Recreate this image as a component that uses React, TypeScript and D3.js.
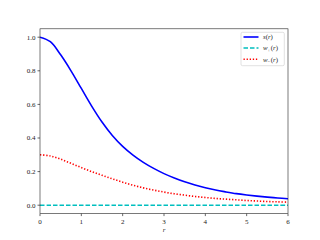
import * as d3 from 'd3'

const rValues = [0, 0.25, 0.5, 0.75, 1, 1.25, 1.5, 1.75, 2, 2.25, 2.5, 2.75, 3, 3.25, 3.5, 3.75, 4, 4.25, 4.5, 4.75, 5, 5.25, 5.5, 5.75, 6]
const sValues = [1.0, 0.973, 0.895, 0.8, 0.695, 0.59, 0.495, 0.415, 0.35, 0.298, 0.255, 0.219, 0.188, 0.162, 0.139, 0.12, 0.104, 0.09, 0.079, 0.069, 0.061, 0.054, 0.048, 0.043, 0.038]
const wPlusValues = rValues.map(() => 0)
const wMinusValues = [0.3, 0.293, 0.274, 0.249, 0.224, 0.2, 0.178, 0.157, 0.137, 0.119, 0.103, 0.09, 0.078, 0.068, 0.06, 0.052, 0.046, 0.04, 0.036, 0.032, 0.028, 0.025, 0.022, 0.02, 0.018]

const xTicks = [0, 1, 2, 3, 4, 5, 6]
const yTicks = [0, 0.2, 0.4, 0.6, 0.8, 1.0]

const W = 320
const H = 240
const margin = { left: 40, right: 32, top: 28.8, bottom: 26.4 }
const font = '"Liberation Serif", "DejaVu Serif", serif'

const series = [
  { name: 's', sub: '', values: sValues, color: '#0000ff', dash: '', width: 1.6 },
  { name: 'w', sub: '+', values: wPlusValues, color: '#00bfbf', dash: '4.5,2', width: 1.5 },
  { name: 'w', sub: '\u2212', values: wMinusValues, color: '#ff0000', dash: '1.3,1.8', width: 1.6 },
]

export default function App() {
  const x = d3.scaleLinear().domain([0, 6]).range([margin.left, W - margin.right])
  const y = d3.scaleLinear().domain([-0.05, 1.05]).range([H - margin.bottom, margin.top])

  const line = d3
    .line<number>()
    .x((_, i) => x(rValues[i]))
    .y((d) => y(d))
    .curve(d3.curveCatmullRom.alpha(0.5))

  const x0 = margin.left
  const x1 = W - margin.right
  const y0 = H - margin.bottom
  const y1 = margin.top

  return (
    <svg
      width={W}
      height={H}
      style={{ position: 'absolute', left: 0, top: 0, background: '#fff' }}
      fontFamily={font}
    >
      <defs>
        <clipPath id="plot">
          <rect x={x0} y={y1} width={x1 - x0} height={y0 - y1} />
        </clipPath>
      </defs>

      <g clipPath="url(#plot)">
        {series.map((s, i) => (
          <path
            key={i}
            d={line(s.values) || ''}
            fill="none"
            stroke={s.color}
            strokeWidth={s.width}
            strokeDasharray={s.dash || undefined}
          />
        ))}
      </g>

      {/* ticks */}
      {xTicks.map((t) => (
        <g key={'x' + t}>
          <line x1={x(t)} x2={x(t)} y1={y0} y2={y0 + 2.5} stroke="#000" strokeWidth={0.6} />
          <text x={x(t)} y={y0 + 10} fontSize={7} textAnchor="middle" fill="#222">
            {t}
          </text>
        </g>
      ))}
      {yTicks.map((t) => (
        <g key={'y' + t}>
          <line x1={x0 - 2.5} x2={x0} y1={y(t)} y2={y(t)} stroke="#000" strokeWidth={0.6} />
          <text x={x0 - 4.5} y={y(t) + 2.4} fontSize={7} textAnchor="end" fill="#222">
            {t.toFixed(1)}
          </text>
        </g>
      ))}

      <rect x={x0} y={y1} width={x1 - x0} height={y0 - y1} fill="none" stroke="#222" strokeWidth={0.6} />

      <text x={(x0 + x1) / 2} y={232} fontSize={7} textAnchor="middle" fontStyle="italic" fill="#222">
        r
      </text>

      {/* legend */}
      <rect x={241} y={32.3} width={43.3} height={33.4} rx={1.5} fill="#fff" fillOpacity={0.8} stroke="#ccc" strokeWidth={0.6} />
      {series.map((s, i) => {
        const ly = 37 + i * 11.1
        return (
          <g key={'l' + i}>
            <line
              x1={243.5}
              x2={258.5}
              y1={ly}
              y2={ly}
              stroke={s.color}
              strokeWidth={s.width}
              strokeDasharray={s.dash || undefined}
            />
            <text x={263} y={ly + 2.3} fontSize={6.8} fill="#222">
              <tspan fontStyle="italic">{s.name}</tspan>
              {s.sub && (
                <tspan fontSize={4.8} dy={1.5}>
                  {s.sub}
                </tspan>
              )}
              <tspan dy={s.sub ? -1.5 : 0} dx={s.sub ? 0.5 : 0}>(</tspan>
              <tspan fontStyle="italic">r</tspan>
              <tspan>)</tspan>
            </text>
          </g>
        )
      })}
    </svg>
  )
}
